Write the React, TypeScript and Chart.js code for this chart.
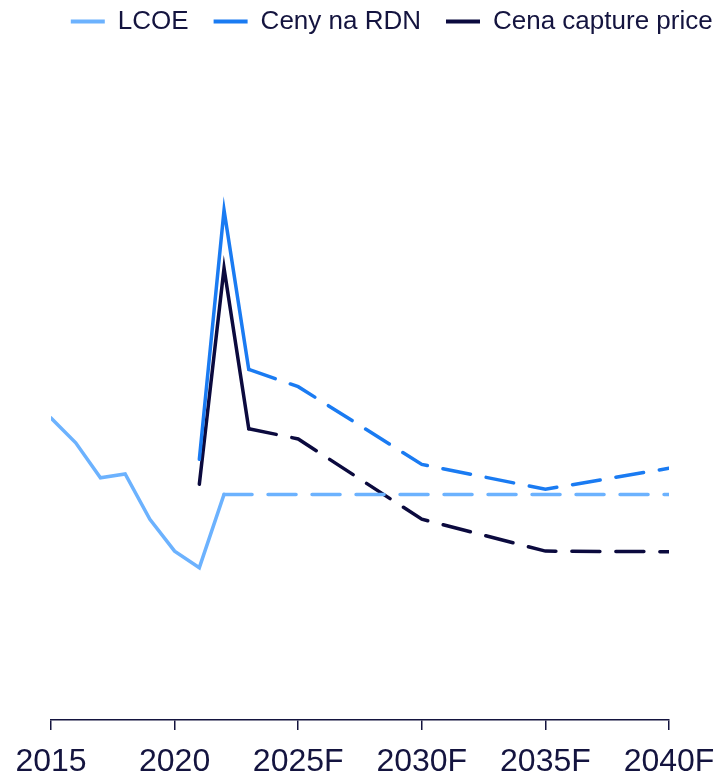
import { useEffect, useRef } from "react";
import { Chart, registerables } from "chart.js";

Chart.register(...registerables);

// ---- data ----
const lcoeYears = [2015, 2016, 2017, 2018, 2019, 2020, 2021, 2022, 2025, 2030, 2035, 2040];
const lcoeValues = [474, 435, 380, 386, 315, 265, 239, 354, 354, 354, 354, 354];

const rdnYears = [2021, 2022, 2023, 2025, 2030, 2035, 2040];
const rdnValues = [409, 800, 550, 523, 401, 362, 395];

const captureYears = [2021, 2022, 2023, 2025, 2030, 2035, 2040];
const captureValues = [370, 709, 457, 441, 315, 265, 264];

const seriesLabels = ["LCOE", "Ceny na RDN", "Cena capture price"];
const forecastFrom = [2022, 2023, 2023];
const tickYears = [2015, 2020, 2025, 2030, 2035, 2040];
const firstForecastTick = 2025;

const COLORS = ["#6cb2fe", "#1a7bf2", "#0b0a3e"];
const TEXT = "#14143f";
const FONT = "'Liberation Sans', Arial, sans-serif";

export default function App() {
  const ref = useRef<HTMLCanvasElement>(null);

  useEffect(() => {
    document.body.style.margin = "0";
    const canvas = ref.current;
    if (!canvas) return;

    const toPts = (xs: number[], ys: number[]) => xs.map((x, i) => ({ x, y: ys[i] }));
    const dashFrom = (start: number) => ({
      borderDash: (c: any) => (c.p0.parsed.x >= start ? [28, 16] : undefined),
    });

    const mk = (i: number, xs: number[], ys: number[]) => ({
      label: seriesLabels[i],
      data: toPts(xs, ys),
      borderColor: COLORS[i],
      backgroundColor: COLORS[i],
      borderWidth: 3.5,
      borderCapStyle: "round" as const,
      pointRadius: 0,
      pointHoverRadius: 0,
      pointStyle: "line" as const,
      tension: 0,
      segment: dashFrom(forecastFrom[i]),
    });

    const legendShift = {
      id: "legendShift",
      afterLayout(chart: any) {
        const lg = chart.legend;
        if (!lg) return;
        lg.left = 45.8;
        lg.right = 2000;
        lg.top = -16.5;
      },
    };

    const chart = new Chart(canvas, {
      type: "line",
      data: {
        datasets: [
          mk(0, lcoeYears, lcoeValues),
          mk(1, rdnYears, rdnValues),
          mk(2, captureYears, captureValues),
        ],
      },
      plugins: [legendShift],
      options: {
        animation: false,
        responsive: false,
        devicePixelRatio: 1,
        layout: { padding: { top: 0, left: 0, right: 0, bottom: -18 } },
        plugins: {
          tooltip: { enabled: false },
          legend: {
            display: true,
            position: "top",
            align: "start",
            labels: {
              usePointStyle: true,
              pointStyle: "line",
              pointStyleWidth: 34,
              padding: 25,
              color: TEXT,
              font: { family: FONT, size: 26 },
              generateLabels: (chart: any) =>
                (Chart.defaults as any).plugins.legend.labels
                  .generateLabels(chart)
                  .map((l: any) => ({ ...l, lineWidth: 4, lineDash: [] })),
            },
          },
        },
        scales: {
          x: {
            type: "linear",
            min: 2015,
            max: 2040,
            afterBuildTicks: (s: any) => {
              s.ticks = tickYears.map((v) => ({ value: v }));
            },
            afterFit: (s: any) => {
              s.paddingLeft = 51;
              s.paddingRight = 51;
            },
            ticks: {
              autoSkip: false,
              maxRotation: 0,
              padding: 16,
              color: TEXT,
              font: { family: FONT, size: 32, lineHeight: 1 },
              callback: (v: any) => (Number(v) >= firstForecastTick ? `${v}F` : `${v}`),
            },
            grid: {
              display: true,
              drawOnChartArea: false,
              drawTicks: true,
              tickLength: 10,
              color: TEXT,
              lineWidth: 1.5,
            },
            border: { display: true, color: TEXT, width: 1.5 },
          },
          y: {
            display: false,
            min: 0,
            max: 1034,
          },
        },
      },
    } as any);

    return () => chart.destroy();
  }, []);

  return <canvas ref={ref} width={720} height={776} style={{ display: "block" }} />;
}
